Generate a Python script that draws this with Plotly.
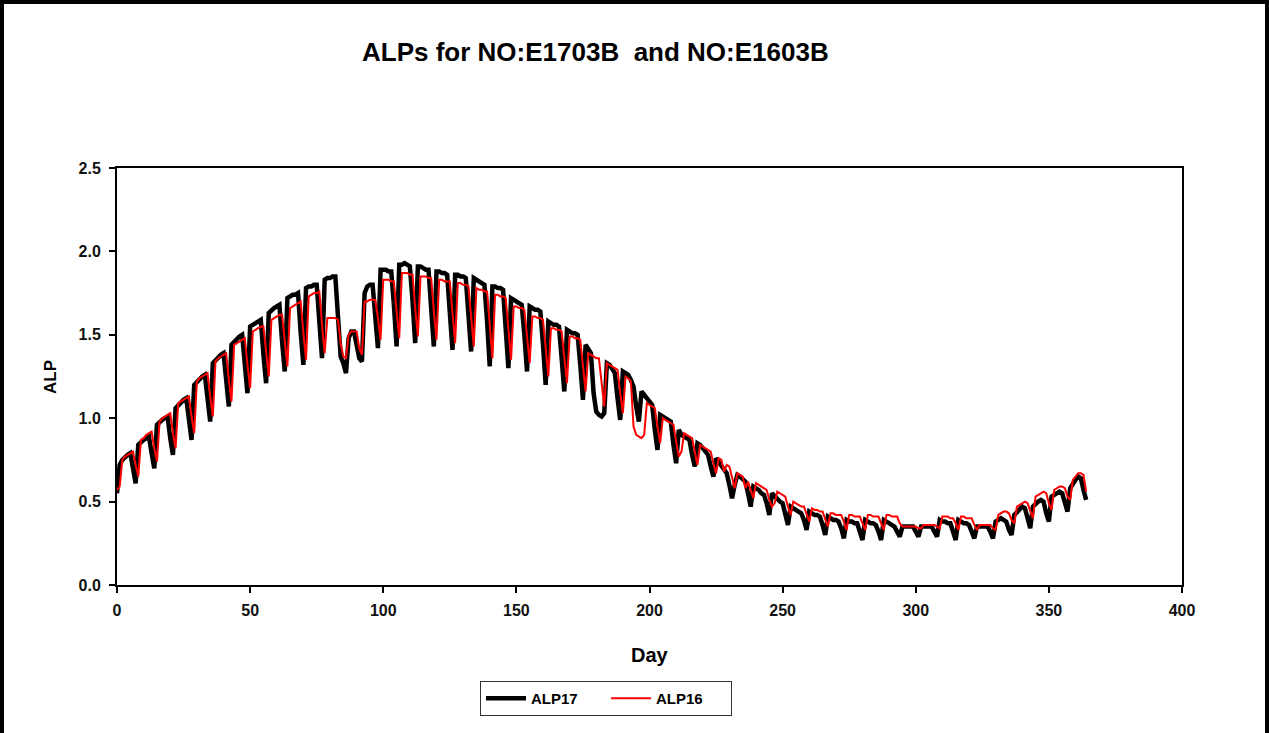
import plotly.graph_objects as go

# Day index (gas year), 0..364
days = list(range(365))

# ALP17 daily values (weeks start on Sunday)
alp17 = [
    0.55, 0.72, 0.75, 0.77, 0.78, 0.79, 0.69,
    0.61, 0.84, 0.86, 0.87, 0.88, 0.89, 0.79,
    0.70, 0.96, 0.98, 0.99, 1.00, 1.01, 0.88,
    0.78, 1.06, 1.08, 1.10, 1.11, 1.12, 0.98,
    0.87, 1.20, 1.22, 1.24, 1.25, 1.26, 1.11,
    0.98, 1.33, 1.35, 1.37, 1.38, 1.39, 1.21,
    1.07, 1.44, 1.46, 1.48, 1.49, 1.50, 1.31,
    1.15, 1.55, 1.56, 1.57, 1.58, 1.59, 1.38,
    1.21, 1.63, 1.65, 1.66, 1.67, 1.68, 1.46,
    1.28, 1.72, 1.73, 1.74, 1.74, 1.75, 1.51,
    1.32, 1.78, 1.79, 1.79, 1.80, 1.80, 1.56,
    1.36, 1.83, 1.84, 1.84, 1.85, 1.85, 1.62,
    1.37, 1.33, 1.27, 1.48, 1.52, 1.52, 1.45,
    1.36, 1.34, 1.75, 1.79, 1.80, 1.80, 1.62,
    1.42, 1.89, 1.89, 1.89, 1.88, 1.88, 1.68,
    1.43, 1.92, 1.92, 1.93, 1.92, 1.91, 1.70,
    1.45, 1.91, 1.91, 1.90, 1.89, 1.89, 1.68,
    1.43, 1.88, 1.88, 1.87, 1.87, 1.86, 1.66,
    1.41, 1.86, 1.86, 1.85, 1.85, 1.84, 1.64,
    1.40, 1.84, 1.83, 1.82, 1.81, 1.80, 1.58,
    1.31, 1.79, 1.79, 1.78, 1.78, 1.77, 1.56,
    1.30, 1.72, 1.71, 1.70, 1.69, 1.68, 1.50,
    1.28, 1.67, 1.66, 1.65, 1.65, 1.64, 1.44,
    1.20, 1.58, 1.57, 1.56, 1.56, 1.55, 1.36,
    1.16, 1.53, 1.52, 1.51, 1.51, 1.50, 1.32,
    1.11, 1.44, 1.42, 1.39, 1.15, 1.04, 1.02,
    1.01, 1.03, 1.33, 1.32, 1.30, 1.27, 1.12,
    0.99, 1.28, 1.27, 1.26, 1.23, 1.19, 1.07,
    0.98, 1.16, 1.14, 1.12, 1.10, 1.08, 0.93,
    0.81, 1.02, 1.01, 1.00, 0.99, 0.98, 0.84,
    0.73, 0.93, 0.90, 0.89, 0.88, 0.87, 0.78,
    0.71, 0.85, 0.84, 0.82, 0.80, 0.78, 0.71,
    0.65, 0.76, 0.74, 0.72, 0.69, 0.67, 0.60,
    0.52, 0.60, 0.66, 0.65, 0.63, 0.62, 0.55,
    0.47, 0.59, 0.58, 0.57, 0.55, 0.54, 0.49,
    0.42, 0.55, 0.53, 0.52, 0.50, 0.49, 0.43,
    0.36, 0.47, 0.46, 0.45, 0.44, 0.43, 0.39,
    0.33, 0.44, 0.43, 0.42, 0.42, 0.41, 0.36,
    0.30, 0.41, 0.40, 0.39, 0.39, 0.38, 0.34,
    0.28, 0.39, 0.38, 0.38, 0.37, 0.37, 0.32,
    0.27, 0.39, 0.38, 0.37, 0.37, 0.36, 0.32,
    0.27, 0.39, 0.38, 0.37, 0.36, 0.35, 0.32,
    0.29, 0.35, 0.35, 0.35, 0.35, 0.35, 0.32,
    0.29, 0.35, 0.35, 0.35, 0.35, 0.35, 0.32,
    0.29, 0.39, 0.38, 0.38, 0.37, 0.37, 0.32,
    0.27, 0.39, 0.38, 0.37, 0.37, 0.36, 0.32,
    0.28, 0.35, 0.35, 0.35, 0.35, 0.35, 0.32,
    0.28, 0.38, 0.39, 0.40, 0.39, 0.38, 0.33,
    0.30, 0.42, 0.44, 0.46, 0.47, 0.46, 0.39,
    0.34, 0.47, 0.49, 0.50, 0.51, 0.50, 0.43,
    0.38, 0.53, 0.54, 0.55, 0.56, 0.55, 0.49,
    0.44, 0.58, 0.61, 0.63, 0.65, 0.64, 0.57,
    0.51,
]

# ALP16 daily values (weeks start on Saturday)
alp16 = [
    0.57, 0.59, 0.75, 0.77, 0.78, 0.79, 0.80,
    0.72, 0.65, 0.87, 0.88, 0.90, 0.91, 0.92,
    0.82, 0.74, 0.98, 1.00, 1.01, 1.02, 1.03,
    0.91, 0.82, 1.09, 1.10, 1.11, 1.12, 1.13,
    1.01, 0.91, 1.22, 1.24, 1.25, 1.26, 1.27,
    1.13, 1.01, 1.34, 1.36, 1.37, 1.38, 1.39,
    1.23, 1.10, 1.44, 1.45, 1.46, 1.47, 1.48,
    1.32, 1.18, 1.52, 1.53, 1.54, 1.55, 1.55,
    1.39, 1.25, 1.59, 1.60, 1.61, 1.62, 1.62,
    1.45, 1.31, 1.66, 1.67, 1.68, 1.69, 1.70,
    1.51, 1.35, 1.73, 1.74, 1.75, 1.75, 1.76,
    1.56, 1.39, 1.60, 1.60, 1.60, 1.60, 1.59,
    1.45, 1.37, 1.36, 1.50, 1.52, 1.52, 1.52,
    1.42, 1.38, 1.70, 1.70, 1.71, 1.71, 1.71,
    1.60, 1.47, 1.83, 1.83, 1.83, 1.82, 1.82,
    1.64, 1.48, 1.87, 1.87, 1.87, 1.86, 1.86,
    1.66, 1.49, 1.85, 1.85, 1.85, 1.84, 1.84,
    1.64, 1.47, 1.83, 1.83, 1.82, 1.82, 1.82,
    1.63, 1.45, 1.81, 1.81, 1.80, 1.80, 1.79,
    1.61, 1.43, 1.78, 1.77, 1.77, 1.76, 1.76,
    1.55, 1.36, 1.74, 1.74, 1.73, 1.73, 1.72,
    1.53, 1.35, 1.67, 1.67, 1.66, 1.66, 1.65,
    1.48, 1.33, 1.61, 1.61, 1.60, 1.60, 1.59,
    1.40, 1.25, 1.54, 1.54, 1.53, 1.53, 1.52,
    1.36, 1.21, 1.49, 1.49, 1.48, 1.48, 1.47,
    1.30, 1.16, 1.39, 1.38, 1.37, 1.36, 1.36,
    1.20, 1.07, 1.33, 1.32, 1.31, 1.30, 1.29,
    1.15, 1.03, 1.25, 1.24, 1.22, 0.95, 0.90,
    0.89, 0.88, 0.90, 1.09, 1.08, 1.07, 1.06,
    0.95, 0.85, 1.00, 0.99, 0.98, 0.97, 0.96,
    0.86, 0.77, 0.80, 0.91, 0.90, 0.89, 0.88,
    0.80, 0.72, 0.84, 0.83, 0.82, 0.81, 0.80,
    0.73, 0.67, 0.76, 0.75, 0.68, 0.72, 0.71,
    0.64, 0.58, 0.67, 0.66, 0.65, 0.58, 0.62,
    0.57, 0.52, 0.61, 0.60, 0.59, 0.58, 0.57,
    0.51, 0.47, 0.49, 0.56, 0.55, 0.54, 0.53,
    0.47, 0.42, 0.50, 0.49, 0.48, 0.47, 0.47,
    0.42, 0.38, 0.46, 0.45, 0.45, 0.44, 0.44,
    0.39, 0.35, 0.43, 0.43, 0.42, 0.42, 0.42,
    0.38, 0.33, 0.42, 0.42, 0.41, 0.41, 0.41,
    0.37, 0.33, 0.42, 0.42, 0.41, 0.41, 0.41,
    0.37, 0.33, 0.42, 0.42, 0.41, 0.41, 0.41,
    0.37, 0.35, 0.35, 0.35, 0.35, 0.35, 0.35,
    0.34, 0.34, 0.36, 0.36, 0.36, 0.36, 0.36,
    0.35, 0.34, 0.41, 0.41, 0.41, 0.40, 0.40,
    0.37, 0.33, 0.41, 0.41, 0.40, 0.40, 0.40,
    0.36, 0.33, 0.36, 0.36, 0.36, 0.36, 0.36,
    0.34, 0.33, 0.42, 0.43, 0.44, 0.44, 0.43,
    0.39, 0.37, 0.47, 0.48, 0.49, 0.50, 0.49,
    0.44, 0.40, 0.53, 0.54, 0.55, 0.56, 0.55,
    0.49, 0.45, 0.57, 0.58, 0.59, 0.59, 0.58,
    0.53, 0.51, 0.63, 0.65, 0.67, 0.67, 0.66,
    0.56,
]

x_ticks = [0, 50, 100, 150, 200, 250, 300, 350, 400]
y_ticks = [0.0, 0.5, 1.0, 1.5, 2.0, 2.5]
y_tick_labels = ["0.0", "0.5", "1.0", "1.5", "2.0", "2.5"]

FONT = "Liberation Sans, Arial, Helvetica, sans-serif"

fig = go.Figure()
fig.add_trace(go.Scatter(x=days, y=alp17, mode="lines", name="ALP17",
                         line=dict(color="black", width=4.5)))
fig.add_trace(go.Scatter(x=days, y=alp16, mode="lines", name="ALP16",
                         line=dict(color="#ff0000", width=2)))

# plot area: x 117..1182, y 168..585 (pixels)
L, R, T, B = 117, 87, 168, 148
W, H = 1269, 733
pw, ph = W - L - R, H - T - B

def px(xp):
    return (xp - L) / pw

def py(yp):
    return (H - B - yp) / ph

fig.update_layout(
    width=W, height=H,
    margin=dict(l=L, r=R, t=T, b=B, autoexpand=False),
    paper_bgcolor="white", plot_bgcolor="white",
    font=dict(family=FONT, color="black"),
    showlegend=True,
    legend=dict(orientation="h", x=px(606), y=py(681), xanchor="center", yanchor="top",
                bordercolor="#333333", borderwidth=1, bgcolor="white",
                font=dict(family=FONT, size=15, color="black", weight="bold"),
                itemwidth=40, tracegroupgap=0, entrywidth=70, entrywidthmode="pixels"),
    xaxis=dict(range=[0, 400], tickvals=x_ticks, ticks="outside", ticklen=6,
               tickwidth=1.5, tickcolor="black", showline=True, linecolor="black",
               linewidth=2, mirror=True, showgrid=False, zeroline=False,
               ticklabelstandoff=4,
               tickfont=dict(family=FONT, size=16, color="#111111", weight="bold")),
    yaxis=dict(range=[0, 2.5], tickvals=y_ticks, ticktext=y_tick_labels, ticks="outside",
               ticklen=6, tickwidth=1.5, tickcolor="black", showline=True,
               linecolor="black", linewidth=2, mirror=True, showgrid=False,
               zeroline=False, ticklabelstandoff=5,
               tickfont=dict(family=FONT, size=16, color="#111111", weight="bold")),
)

fig.add_annotation(text="<b>ALPs for NO:E1703B  and NO:E1603B</b>", xref="paper", yref="paper",
                   x=px(595), y=py(52), xanchor="center", yanchor="middle", showarrow=False,
                   font=dict(family=FONT, size=26, color="black"))
fig.add_annotation(text="<b>Day</b>", xref="paper", yref="paper", x=px(650), y=py(655),
                   xanchor="center", yanchor="middle", showarrow=False,
                   font=dict(family=FONT, size=20, color="black"))
fig.add_annotation(text="<b>ALP</b>", xref="paper", yref="paper", x=px(50), y=py(377),
                   xanchor="center", yanchor="middle", showarrow=False, textangle=-90,
                   font=dict(family=FONT, size=17, color="black"))

# outer frame of the picture
frame = dict(type="line", xref="paper", yref="paper", line=dict(color="black", width=4))
fig.add_shape(**frame, x0=px(0), x1=px(W), y0=py(2), y1=py(2))
fig.add_shape(**frame, x0=px(2), x1=px(2), y0=py(0), y1=py(H))
fig.add_shape(**frame, x0=px(W - 2), x1=px(W - 2), y0=py(0), y1=py(H))

fig.write_html("out.html", config={"displayModeBar": False},
               post_script="document.body.style.margin='0';document.body.style.overflow='hidden';")
